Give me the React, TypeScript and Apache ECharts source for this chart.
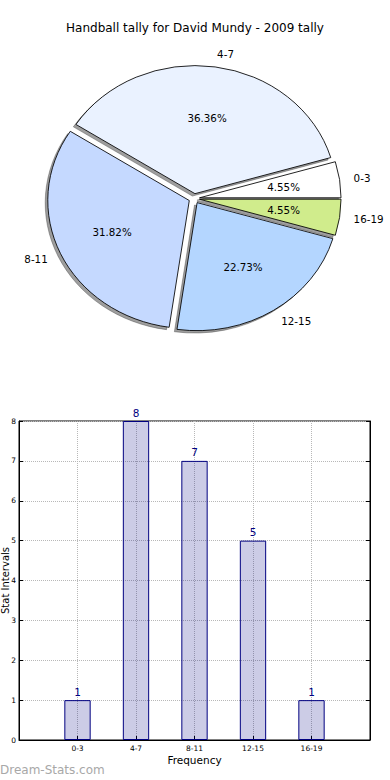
import React, { useEffect, useRef } from "react";
import * as echarts from "echarts";

// ---- data ----
const categories = ["0-3", "4-7", "8-11", "12-15", "16-19"];
const counts = [1, 8, 7, 5, 1];
const pieColors = ["#ffffff", "#eaf2ff", "#c5d9ff", "#b4d6ff", "#d0ec8c"];
const chartTitle = "Handball tally for David Mundy - 2009 tally";
const xAxisName = "Frequency";
const yAxisName = "Stat Intervals";
const watermark = "Dream-Stats.com";

// ---- pie geometry ----
const PIE_CX = 194.2;
const PIE_CY = 198.5;
const PIE_RX = 141.5;
const PIE_RY = 128;
const EXPLODE = 5.4;
const FONT = "DejaVu Sans";

export default function App() {
  const ref = useRef<HTMLDivElement>(null);

  useEffect(() => {
    if (!ref.current) return;
    const chart = echarts.init(ref.current, undefined, { renderer: "svg" });
    const total = counts.reduce((a, b) => a + b, 0);
    const k = PIE_RY / PIE_RX;

    const renderPie = (params: any, api: any) => {
      const i = params.dataIndex;
      const v = api.value(0);
      let before = 0;
      for (let j = 0; j < i; j++) before += counts[j];
      const a1 = (before / total) * Math.PI * 2;
      const a2 = ((before + v) / total) * Math.PI * 2;
      const am = (a1 + a2) / 2;
      const ox = PIE_CX + EXPLODE * Math.cos(am);
      const oy = PIE_CY - EXPLODE * k * Math.sin(am);
      const shape = { cx: 0, cy: 0, r0: 0, r: PIE_RX, startAngle: -a2, endAngle: -a1, clockwise: true };
      const c = Math.cos(am);
      const s = Math.sin(am);
      return {
        type: "group",
        children: [
          {
            type: "sector",
            x: ox - 2.6,
            y: oy + 2.4,
            scaleY: k,
            shape,
            style: { fill: "rgba(40,40,40,0.45)", stroke: "rgba(40,40,40,0.45)", lineWidth: 0.8 },
            z2: 0,
          },
          {
            type: "sector",
            x: ox,
            y: oy,
            scaleY: k,
            shape,
            style: { fill: pieColors[i], stroke: "#000", lineWidth: 0.9 },
            z2: 10,
          },
          {
            type: "text",
            x: ox + 0.6 * PIE_RX * c,
            y: oy - 0.6 * PIE_RY * s,
            style: {
              text: ((v / total) * 100).toFixed(2) + "%",
              fill: "#000",
              fontSize: 10.3,
              fontFamily: FONT,
              align: "center",
              verticalAlign: "middle",
            },
            z2: 20,
          },
          {
            type: "text",
            x: ox + 1.1 * PIE_RX * c,
            y: oy - 1.1 * PIE_RY * s,
            style: {
              text: categories[i],
              fill: "#000",
              fontSize: 10.3,
              fontFamily: FONT,
              align: c > 0 ? "left" : "right",
              verticalAlign: "middle",
            },
            z2: 20,
          },
        ],
      };
    };

    const xCats = ["", ...categories, ""];
    const barData: any[] = ["-", ...counts, "-"];

    chart.setOption({
      animation: false,
      textStyle: { fontFamily: FONT },
      title: {
        text: chartTitle,
        left: "center",
        top: 22,
        padding: 0,
        textStyle: { fontSize: 12, fontWeight: "normal", color: "#000", fontFamily: FONT },
      },
      graphic: [
        {
          type: "text",
          left: 0,
          top: 764,
          style: { text: watermark, fill: "#a8a8a8", fontSize: 12, fontFamily: FONT },
        },
      ],
      grid: {
        left: 19,
        right: 20,
        top: 421,
        bottom: 40,
        show: true,
        borderColor: "#000",
        borderWidth: 1,
        containLabel: false,
        outerBoundsMode: "none",
      },
      xAxis: {
        type: "category",
        data: xCats,
        boundaryGap: false,
        name: xAxisName,
        nameLocation: "middle",
        nameGap: 14,
        nameMoveOverlap: false,
        nameTextStyle: { fontSize: 10.5, color: "#000", fontFamily: FONT },
        axisLine: { lineStyle: { color: "#000" } },
        axisTick: { inside: true, length: 4, lineStyle: { color: "#000" } },
        axisLabel: { fontSize: 7.5, color: "#000", margin: 4, interval: 0 },
        splitLine: { show: true, lineStyle: { color: "#b8b8b8", type: "dotted", width: 1 } },
      },
      yAxis: [
        {
          type: "value",
          min: 0,
          max: 8,
          interval: 1,
          name: yAxisName,
          nameLocation: "middle",
          nameGap: 8.5,
          nameMoveOverlap: false,
          nameTextStyle: { fontSize: 10, color: "#000", fontFamily: FONT },
          axisLine: { show: true, lineStyle: { color: "#000" } },
          axisTick: { show: true, inside: true, length: 4, lineStyle: { color: "#000" } },
          axisLabel: { fontSize: 7.5, color: "#000", margin: 3 },
          splitLine: { show: true, lineStyle: { color: "#b8b8b8", type: "dotted", width: 1 } },
        },
        {
          type: "value",
          min: 0,
          max: 8,
          interval: 1,
          position: "right",
          axisLine: { show: true, lineStyle: { color: "#000" } },
          axisTick: { show: true, inside: true, length: 4, lineStyle: { color: "#000" } },
          axisLabel: { show: false },
          splitLine: { show: false },
        },
      ],
      series: [
        {
          type: "bar",
          data: barData,
          barWidth: "45%",
          itemStyle: { color: "rgba(0,0,128,0.2)", borderColor: "#000080", borderWidth: 1 },
          label: {
            show: true,
            position: "top",
            distance: 3,
            color: "#000080",
            fontSize: 10.5,
            fontFamily: FONT,
          },
        },
        {
          type: "custom",
          coordinateSystem: "none",
          data: counts,
          renderItem: renderPie,
        },
      ],
    });
    return () => chart.dispose();
  }, []);

  return (
    <div
      ref={ref}
      style={{ position: "fixed", left: 0, top: 0, width: 390, height: 780, background: "#fff" }}
    />
  );
}
